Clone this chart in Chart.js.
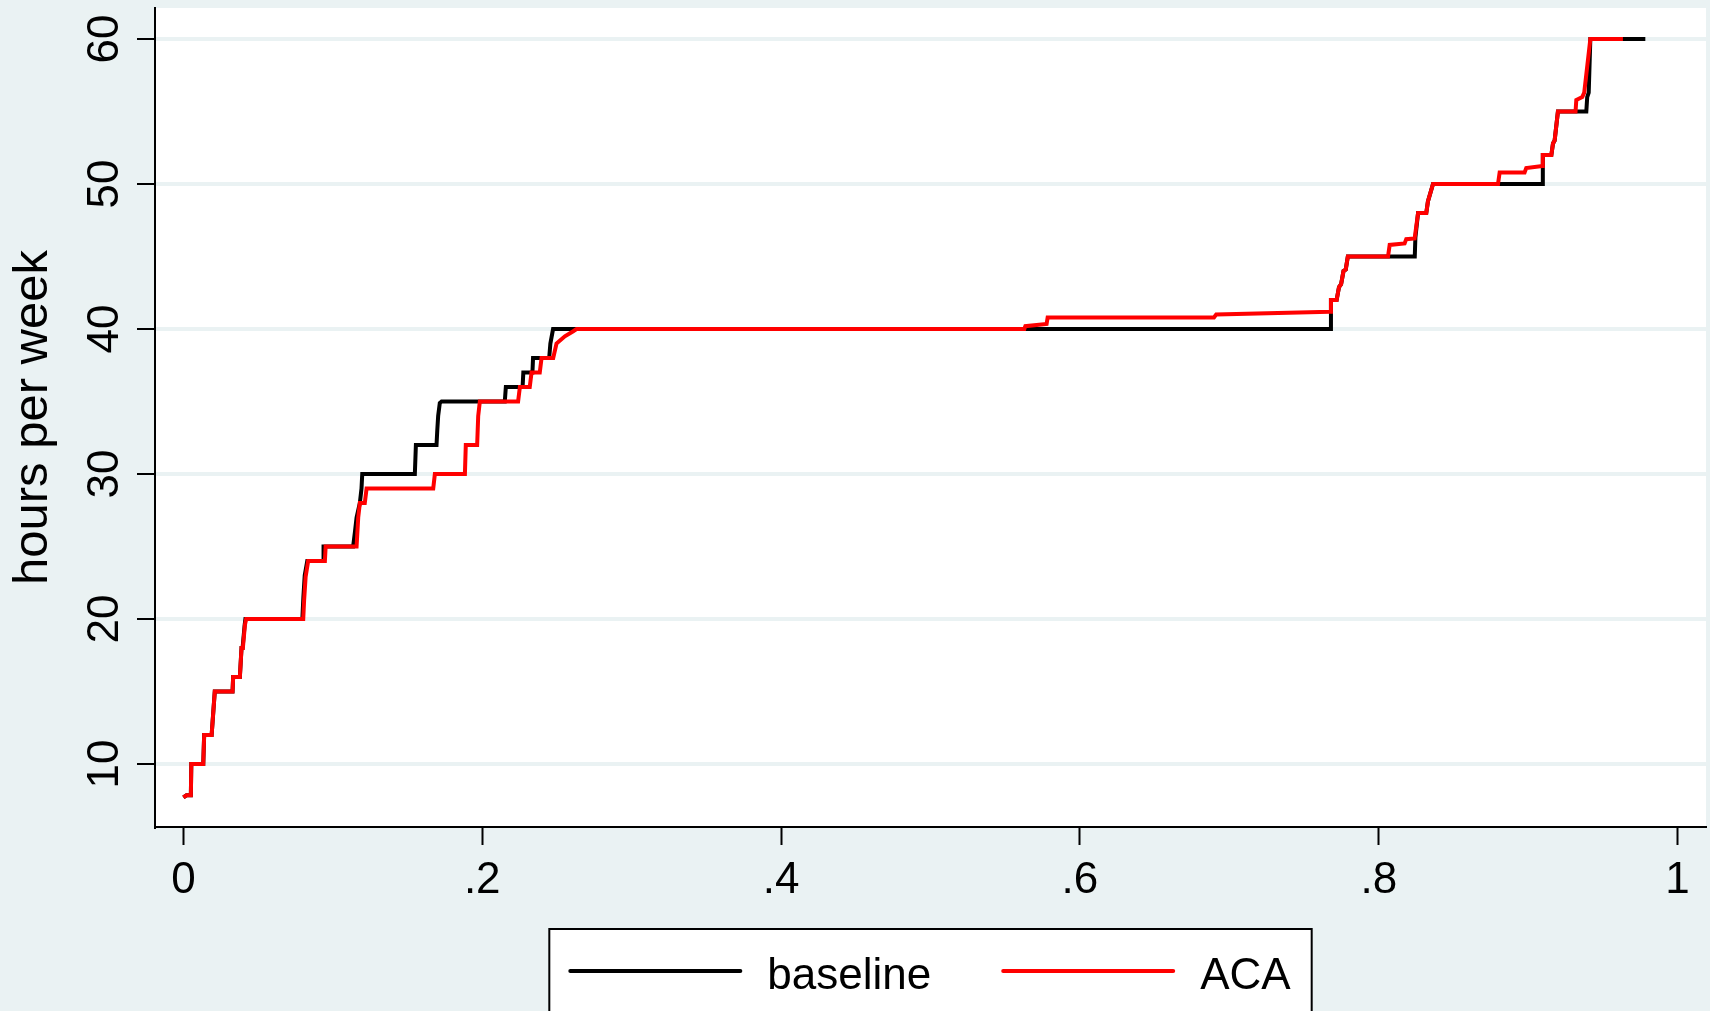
<!DOCTYPE html>
<html lang="en">
<head>
    <meta charset="UTF-8">
    <title>hours per week</title>
    <script src="https://cdn.jsdelivr.net/npm/chart.js"></script>
    <style>
        html, body { margin: 0; padding: 0; overflow: hidden; background: #eaf2f3; }
    </style>
</head>
<body>
    <canvas id="myChart" width="1710" height="1011"></canvas>

    <script>
        // step curves: x = share of workers, y = hours per week
        const baselineX = [0, 0.0021, 0.005, 0.0053, 0.0133, 0.0139, 0.0189, 0.021, 0.0329, 0.0333, 0.0378, 0.0389, 0.0396, 0.041, 0.0415,
            0.0796, 0.0803, 0.0812, 0.0829, 0.0936, 0.0938, 0.1136, 0.1148, 0.1159, 0.1181, 0.1192, 0.1197, 0.1549, 0.1556,
            0.1694, 0.1699, 0.1705, 0.1716, 0.1728, 0.2151, 0.2158, 0.227, 0.2275, 0.2336, 0.234, 0.2448, 0.2456, 0.2474,
            0.7674, 0.768, 0.7718, 0.7734, 0.7748, 0.7764, 0.7779, 0.7793, 0.8241, 0.8245, 0.8263, 0.8318, 0.8329, 0.8363,
            0.9095, 0.9098, 0.9155, 0.9166, 0.9177, 0.9199, 0.9389, 0.9395, 0.9405, 0.9416, 0.9784];
        const baselineY = [7.7, 7.85, 7.85, 10, 10, 12, 12, 15, 15, 16, 16, 18, 18, 19.6, 20,
            20, 21.5, 23, 24, 24, 25, 25, 26, 27, 28, 29, 30, 30, 32,
            32, 33, 34, 34.9, 35, 35, 36, 36, 37, 37, 38, 38, 39, 40,
            40, 42, 42, 42.9, 43.1, 44, 44.1, 45, 45, 46.3, 48, 48, 48.8, 50,
            50, 52, 52, 52.8, 53, 55, 55, 56, 56.3, 60, 60];

        const acaX = [0, 0.0021, 0.005, 0.0053, 0.0133, 0.0139, 0.0189, 0.021, 0.0329, 0.0333, 0.0378, 0.0389, 0.0398, 0.0412, 0.042,
            0.0802, 0.0808, 0.0818, 0.0835, 0.0947, 0.0952, 0.1159, 0.117, 0.1181, 0.1214, 0.1226, 0.1672, 0.1683,
            0.1884, 0.189, 0.1966, 0.1973, 0.1984, 0.224, 0.2252, 0.2318, 0.233, 0.2385, 0.2397, 0.2475, 0.2497, 0.2553,
            0.2609, 0.2631, 0.5628, 0.5635, 0.5777, 0.5784, 0.6897, 0.6912, 0.7674, 0.768, 0.7718, 0.7734, 0.7748, 0.7764,
            0.7779, 0.7793, 0.8062, 0.8073, 0.8173, 0.8184, 0.824, 0.8263, 0.8318, 0.8329, 0.8363, 0.8798, 0.8809, 0.8976,
            0.8987, 0.9095, 0.9098, 0.9155, 0.9166, 0.9177, 0.9199, 0.9317, 0.9322, 0.9362, 0.9375, 0.9416, 0.9634];
        const acaY = [7.7, 7.85, 7.85, 10, 10, 12, 12, 15, 15, 16, 16, 18, 18, 19.6, 20,
            20, 21.3, 22.9, 24, 24, 25, 25, 27, 28, 28, 29, 29, 30,
            30, 32, 32, 34, 35, 35, 36, 36, 37, 37, 38, 38, 39, 39.5,
            39.85, 40, 40, 40.2, 40.35, 40.8, 40.8, 41, 41.2, 42, 42, 42.9, 43.1, 44,
            44.1, 45, 45, 45.8, 45.9, 46.2, 46.25, 48, 48, 48.8, 50, 50, 50.8, 50.8,
            51.1, 51.25, 52, 52, 52.8, 53, 55, 55, 55.8, 56, 56.3, 60, 60];

        const seriesNames = ['baseline', 'ACA'];
        const seriesColors = ['#000000', '#ff0000'];

        const xTicks = [0, 0.2, 0.4, 0.6, 0.8, 1];
        const xTickLabels = ['0', '.2', '.4', '.6', '.8', '1'];
        const yTicks = [10, 20, 30, 40, 50, 60];
        const yTitle = 'hours per week';

        const FONT = "'Liberation Sans', Arial, Helvetica, sans-serif";
        const BG = '#eaf2f3';

        const toPoints = (xs, ys) => xs.map((x, i) => ({ x: x, y: ys[i] }));

        // light page colour with a white plot region
        const backdrop = {
            id: 'backdrop',
            beforeDraw(chart) {
                const { ctx, chartArea: a } = chart;
                ctx.save();
                ctx.fillStyle = BG;
                ctx.fillRect(0, 0, chart.width, chart.height);
                ctx.fillStyle = '#ffffff';
                ctx.fillRect(a.left, a.top, a.right - a.left, a.bottom - a.top);
                ctx.restore();
            }
        };

        // y tick labels read upwards, as in the original
        const yLabels = {
            id: 'yLabels',
            afterDraw(chart) {
                const { ctx } = chart;
                const y = chart.scales.y;
                ctx.save();
                ctx.font = '44px ' + FONT;
                ctx.fillStyle = '#000';
                ctx.textAlign = 'center';
                ctx.textBaseline = 'alphabetic';
                yTicks.forEach(v => {
                    ctx.save();
                    ctx.translate(y.right - 37, y.getPixelForValue(v));
                    ctx.rotate(-Math.PI / 2);
                    ctx.fillText(String(v), 0, 0);
                    ctx.restore();
                });
                ctx.restore();
            }
        };

        // boxed legend centred under the plot region, cut by the bottom edge
        const boxLegend = {
            id: 'boxLegend',
            afterDraw(chart) {
                const { ctx, chartArea: a } = chart;
                const lineLen = 170, gapText = 27, gapItem = 72, top = 929;
                ctx.save();
                ctx.font = '44px ' + FONT;
                const widths = seriesNames.map(n => ctx.measureText(n).width);
                let total = 0;
                widths.forEach((w, i) => { total += lineLen + gapText + w + (i < widths.length - 1 ? gapItem : 0); });
                const cx = (a.left + a.right) / 2;
                const boxW = total + 42;
                ctx.fillStyle = '#ffffff';
                ctx.fillRect(cx - boxW / 2, top, boxW, chart.height - top + 10);
                ctx.strokeStyle = '#000';
                ctx.lineWidth = 2;
                ctx.strokeRect(cx - boxW / 2, top, boxW, chart.height - top + 10);

                let x = cx - total / 2;
                seriesNames.forEach((n, i) => {
                    ctx.strokeStyle = seriesColors[i];
                    ctx.lineWidth = 4;
                    ctx.lineCap = 'round';
                    ctx.beginPath();
                    ctx.moveTo(x, top + 42);
                    ctx.lineTo(x + lineLen, top + 42);
                    ctx.stroke();
                    x += lineLen + gapText;
                    ctx.fillStyle = '#000';
                    ctx.textBaseline = 'alphabetic';
                    ctx.fillText(n, x, top + 60);
                    x += widths[i] + gapItem;
                });
                ctx.restore();
            }
        };

        const ctx = document.getElementById('myChart').getContext('2d');

        new Chart(ctx, {
            type: 'line',
            data: {
                datasets: [{
                    label: seriesNames[0],
                    data: toPoints(baselineX, baselineY),
                    borderColor: seriesColors[0],
                    borderWidth: 4,
                    pointRadius: 0,
                    tension: 0,
                    order: 2
                }, {
                    label: seriesNames[1],
                    data: toPoints(acaX, acaY),
                    borderColor: seriesColors[1],
                    borderWidth: 4,
                    pointRadius: 0,
                    tension: 0,
                    order: 1
                }]
            },
            options: {
                responsive: false,
                animation: false,
                layout: {
                    padding: { left: 0, right: 4, top: 8, bottom: 94 }
                },
                plugins: {
                    legend: { display: false },
                    tooltip: { enabled: false }
                },
                scales: {
                    x: {
                        type: 'linear',
                        min: -0.019,
                        max: 1.019,
                        afterBuildTicks: s => { s.ticks = xTicks.map(v => ({ value: v })); },
                        afterFit: s => { s.height = 90; },
                        grid: {
                            drawOnChartArea: false,
                            drawTicks: true,
                            tickLength: 18,
                            tickColor: '#000',
                            tickWidth: 2
                        },
                        border: { display: true, color: '#000', width: 2 },
                        ticks: {
                            autoSkip: false,
                            maxRotation: 0,
                            padding: 9,
                            color: '#000',
                            font: { size: 44, family: FONT },
                            callback: (value) => {
                                const i = xTicks.findIndex(t => Math.abs(t - value) < 1e-9);
                                return i >= 0 ? xTickLabels[i] : '';
                            }
                        }
                    },
                    y: {
                        type: 'linear',
                        min: 5.66,
                        max: 62.14,
                        afterBuildTicks: s => { s.ticks = yTicks.map(v => ({ value: v })); },
                        afterFit: s => { s.width = 155; },
                        grid: {
                            color: BG,
                            lineWidth: 4,
                            drawTicks: true,
                            tickLength: 18,
                            tickColor: '#000',
                            tickWidth: 2
                        },
                        border: { display: true, color: '#000', width: 2 },
                        ticks: { display: false },
                        title: {
                            display: true,
                            text: yTitle,
                            color: '#000',
                            font: { size: 49, family: FONT },
                            padding: { top: 4, bottom: 0 }
                        }
                    }
                }
            },
            plugins: [backdrop, yLabels, boxLegend]
        });
    </script>
</body>
</html>
